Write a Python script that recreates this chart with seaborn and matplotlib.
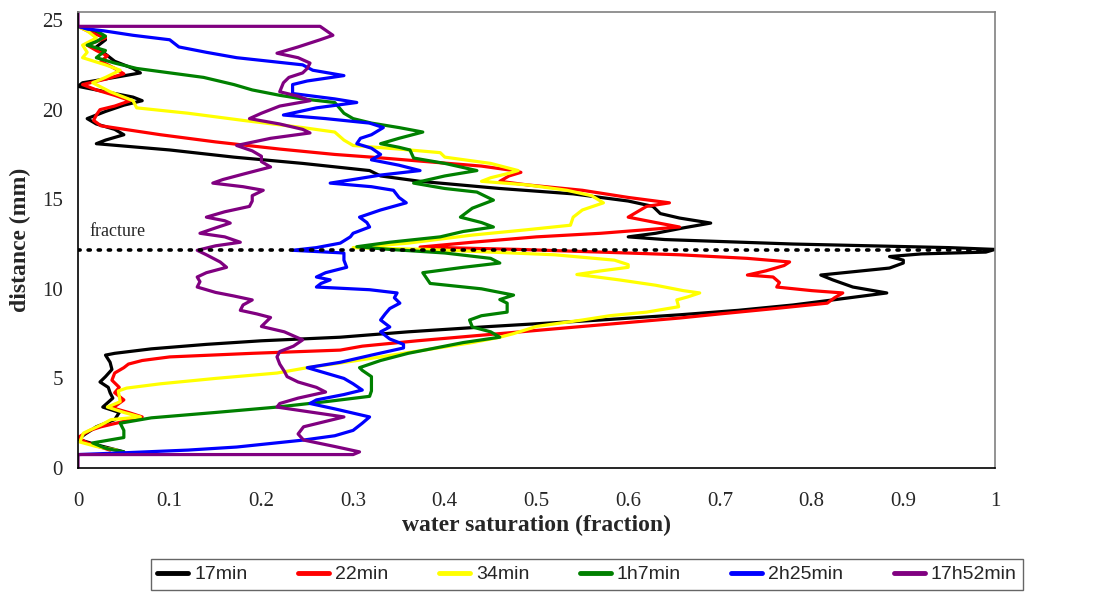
import matplotlib
matplotlib.use("Agg")
import matplotlib.pyplot as plt
from matplotlib import font_manager
import pandas as pd
import seaborn as sb

# water saturation profiles (distance in mm, saturation as fraction)
dist_17min = [24.65, 24.3, 23.9, 23.5, 23.1, 22.7, 22.3, 22.05, 21.8, 21.5, 21.3, 21.0, 20.7, 20.5, 20.25,
              19.9, 19.5, 19.2, 18.9, 18.6, 18.3, 18.1, 17.75, 17.35, 17.0, 16.6, 16.3, 16.0, 15.6, 15.3,
              14.9, 14.6, 14.2, 13.95, 13.67, 13.4, 13.1, 12.9, 12.75, 12.5, 12.3, 12.2, 12.05, 11.95, 11.8,
              11.6, 11.44, 11.16, 10.77, 10.5, 10.1, 9.77, 9.38, 9.1, 8.8, 8.55, 8.26, 7.9, 7.6, 7.3,
              7.1, 6.9, 6.65, 6.4, 6.3, 5.9, 5.5, 5.1, 4.8, 4.5, 4.2, 3.9, 3.4, 3.1, 2.7, 2.3, 1.9, 1.6,
              1.3, 0.9]
sat_17min = [0.0, 0.02, 0.03, 0.02, 0.03, 0.04, 0.06, 0.068, 0.04, 0.005, 0.0, 0.03, 0.06, 0.07, 0.05,
             0.03, 0.01, 0.02, 0.04, 0.05, 0.03, 0.02, 0.10, 0.17, 0.245, 0.318, 0.33, 0.373, 0.46, 0.54,
             0.60, 0.627, 0.635, 0.656, 0.69, 0.66, 0.63, 0.60, 0.64, 0.78, 0.95, 1.0, 0.99, 0.92, 0.885,
             0.90, 0.90, 0.885, 0.81, 0.823, 0.845, 0.882, 0.823, 0.78, 0.72, 0.656, 0.57, 0.45, 0.36, 0.286,
             0.20, 0.14, 0.08, 0.04, 0.03, 0.035, 0.037, 0.03, 0.024, 0.033, 0.035, 0.038, 0.027, 0.045, 0.04,
             0.02, 0.008, 0.0, 0.02, 0.05]

dist_22min = [24.65, 24.4, 24.0, 23.6, 23.3, 23.0, 22.7, 22.3, 22.0, 21.7, 21.4, 21.1, 20.8, 20.5, 20.2,
              20.0, 19.7, 19.4, 19.1, 18.6, 18.2, 17.8, 17.5, 17.35, 17.1, 16.85, 16.6, 16.5, 16.3, 16.0,
              15.8, 15.5, 15.1, 14.8, 14.6, 14.3, 14.0, 13.7, 13.45, 13.3, 13.1, 12.9, 12.6, 12.33, 12.2,
              12.05, 11.9, 11.7, 11.5, 11.3, 11.0, 10.77, 10.66, 10.35, 10.1, 9.9, 9.77, 9.5, 9.2, 8.9,
              8.6, 8.37, 7.9, 7.5, 7.1, 6.8, 6.58, 6.4, 6.2, 6.0, 5.8, 5.6, 5.3, 4.9, 4.5, 4.2, 3.8, 3.35,
              3.1, 2.85, 2.6, 2.3, 2.1, 1.7, 1.4, 1.0]
sat_22min = [0.0, 0.01, 0.03, 0.01, 0.02, 0.032, 0.025, 0.04, 0.05, 0.03, 0.005, 0.02, 0.04, 0.057, 0.04,
             0.024, 0.02, 0.017, 0.025, 0.09, 0.15, 0.22, 0.28, 0.32, 0.38, 0.44, 0.475, 0.483, 0.47, 0.46,
             0.49, 0.55, 0.60, 0.645, 0.62, 0.61, 0.60, 0.63, 0.656, 0.62, 0.57, 0.50, 0.43, 0.373, 0.48,
             0.57, 0.656, 0.73, 0.776, 0.77, 0.75, 0.73, 0.758, 0.765, 0.762, 0.80, 0.834, 0.825, 0.817, 0.76,
             0.70, 0.656, 0.55, 0.46, 0.37, 0.31, 0.286, 0.19, 0.10, 0.07, 0.055, 0.05, 0.04, 0.037, 0.045,
             0.04, 0.05, 0.038, 0.055, 0.07, 0.05, 0.025, 0.013, 0.0, 0.01, 0.035]

dist_34min = [24.65, 24.4, 24.0, 23.6, 23.2, 22.9, 22.5, 22.2, 21.8, 21.5, 21.0, 20.5, 20.1, 19.8, 19.4,
              19.0, 18.75, 18.3, 18.0, 17.8, 17.6, 17.35, 17.0, 16.6, 16.45, 16.2, 16.0, 15.8, 15.5, 15.2,
              14.8, 14.4, 14.0, 13.55, 13.3, 13.0, 12.55, 12.3, 12.2, 12.05, 11.9, 11.6, 11.35, 11.2, 11.0,
              10.8, 10.7, 10.5, 10.2, 9.9, 9.77, 9.55, 9.38, 9.0, 8.7, 8.5, 8.26, 7.9, 7.5, 7.3, 7.0, 6.6,
              6.2, 5.86, 5.6, 5.3, 5.0, 4.7, 4.46, 4.3, 4.0, 3.7, 3.4, 3.1, 2.85, 2.7, 2.4, 1.95, 1.45,
              1.2, 1.0]
sat_34min = [0.0, 0.01, 0.02, 0.005, 0.01, 0.005, 0.03, 0.046, 0.03, 0.016, 0.035, 0.06, 0.064, 0.12, 0.18,
             0.245, 0.28, 0.29, 0.30, 0.35, 0.395, 0.40, 0.45, 0.48, 0.47, 0.45, 0.44, 0.49, 0.533, 0.56,
             0.573, 0.55, 0.54, 0.537, 0.49, 0.43, 0.36, 0.30, 0.38, 0.45, 0.52, 0.585, 0.60, 0.60, 0.57,
             0.544, 0.56, 0.59, 0.63, 0.66, 0.678, 0.665, 0.653, 0.655, 0.62, 0.58, 0.55, 0.50, 0.475, 0.46,
             0.43, 0.38, 0.33, 0.286, 0.25, 0.217, 0.15, 0.09, 0.053, 0.044, 0.045, 0.046, 0.032, 0.05, 0.068,
             0.036, 0.025, 0.006, 0.002, 0.02, 0.042]

dist_1h7min = [24.65, 24.4, 24.1, 23.8, 23.6, 23.3, 22.9, 22.6, 22.3, 21.8, 21.4, 21.1, 20.8, 20.6, 20.4,
               20.1, 19.8, 19.5, 19.25, 19.0, 18.75, 18.4, 18.1, 17.9, 17.75, 17.3, 17.0, 16.6, 16.3, 15.9,
               15.6, 15.4, 14.95, 14.5, 14.0, 13.7, 13.45, 13.2, 12.9, 12.6, 12.35, 12.2, 12.0, 11.7, 11.44,
               11.2, 10.9, 10.6, 10.3, 10.0, 9.65, 9.4, 9.2, 8.7, 8.5, 8.26, 7.87, 7.6, 7.3, 7.0, 6.7, 6.4,
               6.0, 5.6, 5.45, 5.1, 4.7, 4.3, 4.0, 3.7, 3.4, 3.1, 2.8, 2.5, 2.1, 1.7, 1.4, 1.1, 0.9]
sat_1h7min = [0.0, 0.02, 0.03, 0.02, 0.01, 0.03, 0.02, 0.04, 0.064, 0.137, 0.17, 0.19, 0.22, 0.245, 0.28,
              0.285, 0.29, 0.30, 0.32, 0.35, 0.376, 0.35, 0.33, 0.35, 0.362, 0.366, 0.40, 0.435, 0.40, 0.366,
              0.40, 0.435, 0.453, 0.43, 0.417, 0.44, 0.453, 0.42, 0.395, 0.34, 0.304, 0.34, 0.40, 0.45, 0.46,
              0.42, 0.376, 0.38, 0.384, 0.44, 0.475, 0.46, 0.468, 0.468, 0.44, 0.427, 0.43, 0.45, 0.46, 0.42,
              0.39, 0.36, 0.33, 0.307, 0.31, 0.32, 0.32, 0.32, 0.318, 0.27, 0.217, 0.15, 0.08, 0.046, 0.05,
              0.05, 0.016, 0.03, 0.05]

dist_2h25min = [24.65, 24.5, 24.4, 24.15, 23.9, 23.5, 23.2, 22.9, 22.5, 22.2, 21.9, 21.6, 21.4, 20.9, 20.6,
                20.4, 20.1, 19.7, 19.5, 19.25, 19.0, 18.6, 18.4, 18.1, 17.85, 17.5, 17.2, 16.9, 16.6, 16.35,
                16.1, 15.9, 15.7, 15.5, 15.1, 14.8, 14.4, 14.0, 13.7, 13.45, 13.1, 12.9, 12.55, 12.3, 12.15,
                12.0, 11.6, 11.2, 10.9, 10.66, 10.5, 10.3, 10.1, 9.95, 9.77, 9.5, 9.2, 8.9, 8.6, 8.26, 7.87,
                7.6, 7.2, 6.9, 6.7, 6.3, 5.9, 5.6, 5.3, 5.0, 4.7, 4.35, 4.1, 3.8, 3.6, 3.3, 2.85, 2.5, 2.1,
                1.8, 1.56, 1.17, 1.0, 0.84, 0.75]
sat_2h25min = [0.0, 0.01, 0.028, 0.06, 0.10, 0.11, 0.14, 0.173, 0.245, 0.256, 0.29, 0.25, 0.234, 0.234, 0.28,
               0.304, 0.26, 0.224, 0.27, 0.318, 0.333, 0.32, 0.308, 0.304, 0.32, 0.33, 0.32, 0.35, 0.373, 0.33,
               0.30, 0.275, 0.32, 0.344, 0.35, 0.358, 0.33, 0.307, 0.315, 0.318, 0.30, 0.297, 0.286, 0.26, 0.234,
               0.29, 0.29, 0.293, 0.27, 0.26, 0.275, 0.265, 0.26, 0.318, 0.348, 0.345, 0.351, 0.34, 0.335, 0.33,
               0.34, 0.33, 0.34, 0.355, 0.355, 0.32, 0.286, 0.25, 0.27, 0.29, 0.30, 0.31, 0.29, 0.26, 0.253,
               0.28, 0.318, 0.31, 0.30, 0.28, 0.246, 0.173, 0.12, 0.046, 0.0]

dist_17h52min = [25.45, 24.65, 24.65, 24.15, 23.9, 23.5, 23.15, 22.9, 22.6, 22.3, 22.05, 21.8, 21.5, 21.0,
                 20.75, 20.5, 20.2, 19.8, 19.5, 19.2, 18.9, 18.7, 18.4, 18.0, 17.7, 17.4, 17.1, 16.8, 16.4,
                 16.1, 15.9, 15.7, 15.5, 15.2, 14.9, 14.6, 14.3, 14.0, 13.8, 13.67, 13.4, 13.1, 12.9, 12.6,
                 12.4, 12.15, 11.9, 11.5, 11.2, 10.9, 10.66, 10.4, 10.1, 9.8, 9.6, 9.38, 9.1, 8.8, 8.6, 8.4,
                 8.15, 7.9, 7.6, 7.15, 6.8, 6.5, 6.2, 5.8, 5.4, 5.1, 4.8, 4.5, 4.24, 3.9, 3.6, 3.4, 3.15,
                 2.85, 2.6, 2.3, 1.9, 1.56, 1.2, 0.9, 0.75, 0.75, 0.0]
sat_17h52min = [0.0, 0.0, 0.264, 0.278, 0.264, 0.24, 0.217, 0.24, 0.253, 0.25, 0.245, 0.23, 0.224, 0.22,
                0.24, 0.253, 0.22, 0.20, 0.187, 0.22, 0.245, 0.253, 0.21, 0.173, 0.19, 0.20, 0.20, 0.21, 0.18,
                0.158, 0.147, 0.18, 0.202, 0.19, 0.19, 0.187, 0.16, 0.14, 0.16, 0.166, 0.15, 0.133, 0.16, 0.177,
                0.15, 0.13, 0.14, 0.155, 0.162, 0.14, 0.13, 0.133, 0.13, 0.15, 0.17, 0.19, 0.18, 0.177, 0.195,
                0.21, 0.205, 0.20, 0.225, 0.245, 0.235, 0.22, 0.217, 0.22, 0.225, 0.228, 0.24, 0.26, 0.27, 0.24,
                0.22, 0.217, 0.25, 0.29, 0.27, 0.246, 0.24, 0.246, 0.28, 0.307, 0.30, 0.0, 0.0]

series_names = ['17min', '22min', '34min', '1h7min', '2h25min', '17h52min']
series_colors = ['#000000', '#FF0000', '#FFFF00', '#008000', '#0000FF', '#800080']
fracture_depth = 12.15
xtick_vals = [0, 0.1, 0.2, 0.3, 0.4, 0.5, 0.6, 0.7, 0.8, 0.9, 1]
xtick_text = ['0', '0.1', '0.2', '0.3', '0.4', '0.5', '0.6', '0.7', '0.8', '0.9', '1']
ytick_vals = [0, 5, 10, 15, 20, 25]

profiles = [(dist_17min, sat_17min), (dist_22min, sat_22min), (dist_34min, sat_34min),
            (dist_1h7min, sat_1h7min), (dist_2h25min, sat_2h25min), (dist_17h52min, sat_17h52min)]
frames = []
for name, (d, s) in zip(series_names, profiles):
    frames.append(pd.DataFrame({'series': name, 'distance': d, 'saturation': s}))
data = pd.concat(frames, ignore_index=True)

sb.set_style('white')
serif = 'Liberation Serif'
try:
    font_manager.findfont('Liberation Sans Narrow', fallback_to_default=False)
    legend_font = 'Liberation Sans Narrow'
except Exception:
    legend_font = 'Liberation Sans'

fig = plt.figure(figsize=(10.95, 5.96), dpi=100)
ax = fig.add_axes([78/1095, 1-468/596, (995-78)/1095, (468-12)/596])

for name, col in zip(series_names, series_colors):
    sb.lineplot(data=data[data['series'] == name], x='saturation', y='distance', sort=False,
                estimator=None, color=col, lw=2.3, ax=ax, label=name)

ax.plot([0, 1], [fracture_depth, fracture_depth], ls=(0, (0.6, 2.2)), color='black', lw=2.6,
        dash_capstyle='round', zorder=5)
ax.text(0.013, 12.95, 'fracture', family=serif, fontsize=13, ha='left', va='baseline')

ax.set_xlim(0, 1)
ax.set_ylim(0, 25.45)
ax.set_xticks(xtick_vals)
ax.set_xticklabels(xtick_text)
ax.set_yticks(ytick_vals)
for lab in ax.get_xticklabels() + ax.get_yticklabels():
    lab.set_family(serif)
    lab.set_fontsize(15)
ax.tick_params(axis='x', direction='out', length=5, width=1, pad=12, color='black')
ax.tick_params(axis='y', direction='out', length=5, width=1, pad=6, color='black')
ax.set_xlabel('water saturation (fraction)', family=serif, fontsize=17, fontweight='bold', labelpad=3)
ax.set_ylabel('distance (mm)', family=serif, fontsize=17, fontweight='bold', labelpad=8)
for side in ['left', 'bottom']:
    ax.spines[side].set_color('black')
    ax.spines[side].set_linewidth(1.2)
for side in ['top', 'right']:
    ax.spines[side].set_color('#808080')
    ax.spines[side].set_linewidth(1.2)

handles, labels = ax.get_legend_handles_labels()
ax.get_legend().remove()
leg = fig.legend(handles, labels, loc='center', bbox_to_anchor=(587/1095, 1-574.5/596), ncol=6,
                 frameon=True, fancybox=False, edgecolor='#404040', handlelength=1.6, columnspacing=2.6,
                 handletextpad=0.3, borderpad=0.35, prop={'family': legend_font, 'size': 14})
leg.get_frame().set_linewidth(1.0)
for h in leg.get_lines():
    h.set_linewidth(3.5)

fig.savefig('out.png', dpi=100)
